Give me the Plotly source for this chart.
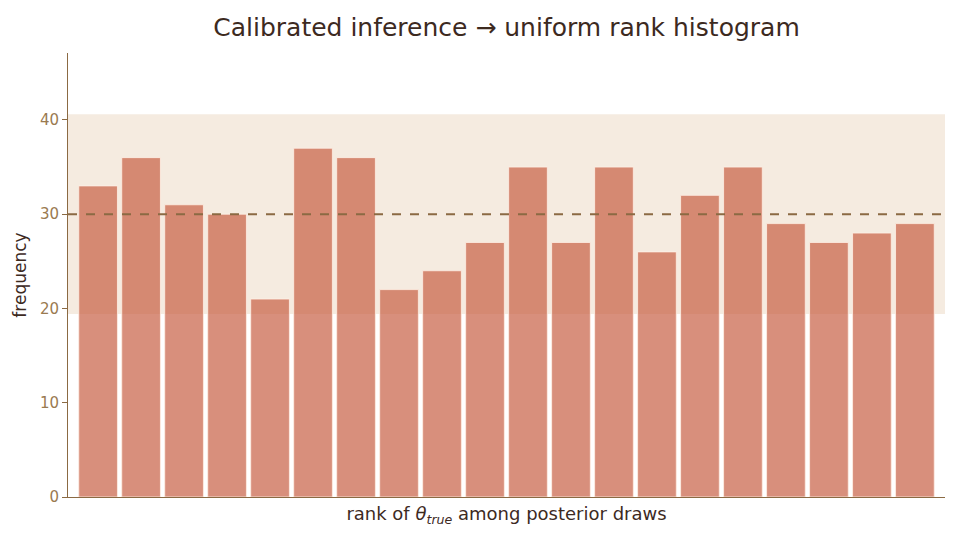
import plotly.graph_objects as go

ranks = list(range(20))
counts = [33, 36, 31, 30, 21, 37, 36, 22, 24, 27, 35, 27, 35, 26, 32, 35, 29, 27, 28, 29]
expected = 30
band_lo, band_hi = 19.4, 40.6
y_max = 47.1

fig = go.Figure()
fig.add_shape(type="rect", xref="paper", yref="y", x0=0, x1=1, y0=band_lo, y1=band_hi,
              fillcolor="rgba(232,210,186,0.45)", line=dict(width=0), layer="below")
fig.add_trace(go.Bar(x=ranks, y=counts, width=0.9,
                     marker=dict(color="rgba(197,88,60,0.67)", line=dict(color="rgba(255,240,230,0.8)", width=1)),
                     showlegend=False, hoverinfo="x+y"))
fig.add_shape(type="line", xref="paper", yref="y", x0=0, x1=1, y0=expected, y1=expected,
              line=dict(color="#8b6a43", width=2, dash="dash"), layer="above")

axis_col = "#8b6a43"
fig.update_layout(
    width=960, height=540,
    margin=dict(l=68, r=15, t=53, b=43),
    plot_bgcolor="white", paper_bgcolor="white",
    font=dict(family="DejaVu Sans", color="#3d2a1f"),
    title=dict(text="Calibrated inference → uniform rank histogram", xref="paper", x=0.5, xanchor="center",
               y=0.965, yanchor="top", font=dict(size=25, color="#3d2a1f")),
    bargap=0.1,
)
fig.update_xaxes(range=[-0.7, 19.7], showticklabels=False, ticks="", showgrid=False, zeroline=False,
                 showline=True, linecolor=axis_col, linewidth=1,
                 title=dict(text="rank of <i>θ</i><sub><i>true</i></sub> among posterior draws",
                            font=dict(size=18, color="#3d2a1f"), standoff=10))
fig.update_yaxes(range=[0, y_max], tickvals=[0, 10, 20, 30, 40], showgrid=False, zeroline=False,
                 showline=True, linecolor=axis_col, linewidth=1, ticks="outside", tickcolor=axis_col,
                 ticklen=5, tickfont=dict(size=15, color="#9a7a50"),
                 title=dict(text="frequency", font=dict(size=17, color="#3d2a1f"), standoff=8))

fig.write_html("out.html")
